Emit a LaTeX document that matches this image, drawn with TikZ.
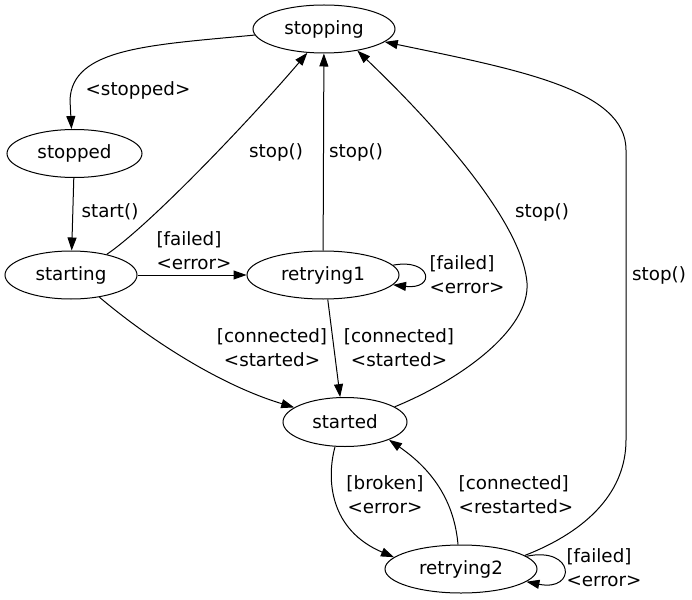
\documentclass[tikz,border=0pt]{standalone}
\usepackage{fontspec}
\setmainfont{DejaVu Sans}
\usetikzlibrary{arrows.meta,shapes.geometric}
\begin{document}
\begin{tikzpicture}[x=1bp,y=1bp,
  state/.style={draw, ellipse, line width=1bp, inner sep=0pt, minimum height=48bp, font=\fontsize{18.3bp}{24bp}\selectfont},
  edge/.style={draw, line width=1bp, -{Triangle[length=13bp,width=9bp]}},
  lbl/.style={align=center, inner sep=0pt, font=\fontsize{18.3bp}{24bp}\selectfont},
  lbll/.style={lbl, align=left}]
\useasboundingbox (0,0) rectangle (692,-600);
\fill[white] (0,0) rectangle (692,-600);
% states
\node[state, minimum width=142bp] (stopping) at (324,-29) {stopping};
\node[state, minimum width=135bp] (stopped) at (74.5,-153.5) {stopped};
\node[state, minimum width=132bp] (starting) at (71,-275) {starting};
\node[state, minimum width=152bp] (retrying1) at (323,-275) {retrying1};
\node[state, minimum width=124bp, minimum height=49bp] (started) at (345,-422) {started};
\node[state, minimum width=152bp] (retrying2) at (461,-569) {retrying2};
% transitions
\draw[edge] (stopping.185) .. controls (150,-45) and (72,-48) .. (70,-100) -- (stopped.97);
\draw[edge] (stopped) -- (starting);
\draw[edge] (starting.30) .. controls (150,-225) and (250,-120) .. (stopping.235);
\draw[edge] (starting) -- (retrying1);
\draw[edge] (retrying1) -- (stopping);
\draw[edge] (retrying1.8) .. controls (432,-258) and (436,-290) .. (retrying1.-8);
\draw[edge] (retrying1.281) -- (started.101);
\draw[edge] (starting.322) .. controls (150,-340) and (220,-385) .. (started.164);
\draw[edge] (started.17) .. controls (460,-380) and (530,-330) .. (527,-283) .. controls (522,-220) and (430,-120) .. (stopping.-33);
\draw[edge] (started.248) .. controls (326,-480) and (330,-530) .. (retrying2.170);
\draw[edge] (retrying2.97) .. controls (455,-510) and (440,-475) .. (started.-22);
\draw[edge] (retrying2.12) .. controls (590,-530) and (626,-490) .. (626,-440) -- (626,-150) .. controls (626,-90) and (520,-70) .. (stopping.-12.5);
\draw[edge] (retrying2.11) .. controls (575,-546) and (577,-592) .. (retrying2.-11);
% labels
\node[lbl] (lstopped) at (138,-90) {<stopped>};
\node[lbl] (lstart) at (110,-212) {start()};
\node[lbl] (lstop1) at (276,-152) {stop()};
\node[lbll] (lfail1) at (194,-251) {[failed]\\<error>};
\node[lbl] (lstop2) at (356,-152) {stop()};
\node[lbll] (lfail2) at (467,-275) {[failed]\\<error>};
\node[lbl] (lstop3) at (542,-212) {stop()};
\node[lbl] (lstop4) at (659,-275) {stop()};
\node[lbl] (lconn1) at (272,-348) {[connected]\\<started>};
\node[lbl] (lconn2) at (399,-348) {[connected]\\<started>};
\node[lbl] (lbroken) at (385,-495) {[broken]\\<error>};
\node[lbll] (lrestart) at (516,-495) {[connected]\\<restarted>};
\node[lbll] (lfail3) at (604,-568) {[failed]\\<error>};
\end{tikzpicture}
\end{document}
